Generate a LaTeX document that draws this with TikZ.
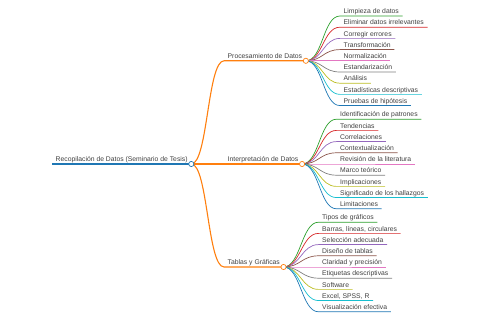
\documentclass[tikz,border=0pt]{standalone}
\usepackage{fontspec}
\setmainfont{Liberation Sans}
\usetikzlibrary{positioning,calc}
\definecolor{mmBlue}{RGB}{31,119,180}
\definecolor{mmOrange}{RGB}{255,127,14}
\definecolor{mmGreen}{RGB}{44,160,44}
\definecolor{mmRed}{RGB}{214,39,40}
\definecolor{mmPurple}{RGB}{148,103,189}
\definecolor{mmBrown}{RGB}{140,86,75}
\definecolor{mmPink}{RGB}{227,119,194}
\definecolor{mmGrey}{RGB}{127,127,127}
\definecolor{mmOlive}{RGB}{188,189,34}
\definecolor{mmCyan}{RGB}{23,190,207}
\definecolor{TxtGrey}{RGB}{64,64,64}

\begin{document}
\begin{tikzpicture}[
  x=1pt,y=-1pt,
  n/.style={anchor=south west,inner xsep=3.5pt,inner ysep=0.3pt,text height=5pt,text depth=1.7pt,
    font=\fontsize{6.8}{8}\selectfont,text=TxtGrey},
  lk/.style={line width=0.7pt},
  bk/.style={mmOrange,line width=1.1pt},
  dot/.style={line width=0.7pt,fill=white}
]
  \useasboundingbox (0,0) rectangle (480,320);
  % root and main branches
  \node[n] (rec) at (52,164) {Recopilación de Datos (Seminario de Tesis)};
  \node[n] (proc) at (224,60.8) {Procesamiento de Datos};
  \node[n] (interp) at (224,164) {Interpretación de Datos};
  \node[n] (tab) at (224,267) {Tablas y Gráficas};
  % leaves: Procesamiento
  \node[n] (p1) at (340,16.0) {Limpieza de datos};
  \node[n] (p2) at (340,27.2) {Eliminar datos irrelevantes};
  \node[n] (p3) at (340,38.4) {Corregir errores};
  \node[n] (p4) at (340,49.6) {Transformación};
  \node[n] (p5) at (340,60.8) {Normalización};
  \node[n] (p6) at (340,72.0) {Estandarización};
  \node[n] (p7) at (340,83.2) {Análisis};
  \node[n] (p8) at (340,94.4) {Estadísticas descriptivas};
  \node[n] (p9) at (340,105.6) {Pruebas de hipótesis};
  % leaves: Interpretación
  \node[n] (i1) at (336.5,119.2) {Identificación de patrones};
  \node[n] (i2) at (336.5,130.4) {Tendencias};
  \node[n] (i3) at (336.5,141.6) {Correlaciones};
  \node[n] (i4) at (336.5,152.8) {Contextualización};
  \node[n] (i5) at (336.5,164.0) {Revisión de la literatura};
  \node[n] (i6) at (336.5,175.2) {Marco teórico};
  \node[n] (i7) at (336.5,186.4) {Implicaciones};
  \node[n] (i8) at (336.5,197.6) {Significado de los hallazgos};
  \node[n] (i9) at (336.5,208.8) {Limitaciones};
  % leaves: Tablas
  \node[n] (t1) at (318.5,222.2) {Tipos de gráficos};
  \node[n] (t2) at (318.5,233.4) {Barras, líneas, circulares};
  \node[n] (t3) at (318.5,244.6) {Selección adecuada};
  \node[n] (t4) at (318.5,255.8) {Diseño de tablas};
  \node[n] (t5) at (318.5,267.0) {Claridad y precisión};
  \node[n] (t6) at (318.5,278.2) {Etiquetas descriptivas};
  \node[n] (t7) at (318.5,289.4) {Software};
  \node[n] (t8) at (318.5,300.6) {Excel, SPSS, R};
  \node[n] (t9) at (318.5,311.8) {Visualización efectiva};

  % underlines and links
  \draw[mmBlue,line width=1.5pt] (rec.south west) -- (rec.south east);
  \draw[bk] (rec.south east) .. controls +(16.5,0) and +(-16.5,0) .. (proc.south west) -- (proc.south east);
  \draw[bk] (rec.south east) .. controls +(16.5,0) and +(-16.5,0) .. (interp.south west) -- (interp.south east);
  \draw[bk] (rec.south east) .. controls +(16.5,0) and +(-16.5,0) .. (tab.south west) -- (tab.south east);

  \draw[lk,mmGreen] (proc.south east) .. controls +(17,0) and +(-17,0) .. (p1.south west) -- (p1.south east);
  \draw[lk,mmRed] (proc.south east) .. controls +(17,0) and +(-17,0) .. (p2.south west) -- (p2.south east);
  \draw[lk,mmPurple] (proc.south east) .. controls +(17,0) and +(-17,0) .. (p3.south west) -- (p3.south east);
  \draw[lk,mmBrown] (proc.south east) .. controls +(17,0) and +(-17,0) .. (p4.south west) -- (p4.south east);
  \draw[lk,mmPink] (proc.south east) .. controls +(17,0) and +(-17,0) .. (p5.south west) -- (p5.south east);
  \draw[lk,mmGrey] (proc.south east) .. controls +(17,0) and +(-17,0) .. (p6.south west) -- (p6.south east);
  \draw[lk,mmOlive] (proc.south east) .. controls +(17,0) and +(-17,0) .. (p7.south west) -- (p7.south east);
  \draw[lk,mmCyan] (proc.south east) .. controls +(17,0) and +(-17,0) .. (p8.south west) -- (p8.south east);
  \draw[lk,mmBlue] (proc.south east) .. controls +(17,0) and +(-17,0) .. (p9.south west) -- (p9.south east);

  \draw[lk,mmGreen] (interp.south east) .. controls +(17,0) and +(-17,0) .. (i1.south west) -- (i1.south east);
  \draw[lk,mmRed] (interp.south east) .. controls +(17,0) and +(-17,0) .. (i2.south west) -- (i2.south east);
  \draw[lk,mmPurple] (interp.south east) .. controls +(17,0) and +(-17,0) .. (i3.south west) -- (i3.south east);
  \draw[lk,mmBrown] (interp.south east) .. controls +(17,0) and +(-17,0) .. (i4.south west) -- (i4.south east);
  \draw[lk,mmPink] (interp.south east) .. controls +(17,0) and +(-17,0) .. (i5.south west) -- (i5.south east);
  \draw[lk,mmGrey] (interp.south east) .. controls +(17,0) and +(-17,0) .. (i6.south west) -- (i6.south east);
  \draw[lk,mmOlive] (interp.south east) .. controls +(17,0) and +(-17,0) .. (i7.south west) -- (i7.south east);
  \draw[lk,mmCyan] (interp.south east) .. controls +(17,0) and +(-17,0) .. (i8.south west) -- (i8.south east);
  \draw[lk,mmBlue] (interp.south east) .. controls +(17,0) and +(-17,0) .. (i9.south west) -- (i9.south east);

  \draw[lk,mmGreen] (tab.south east) .. controls +(17,0) and +(-17,0) .. (t1.south west) -- (t1.south east);
  \draw[lk,mmRed] (tab.south east) .. controls +(17,0) and +(-17,0) .. (t2.south west) -- (t2.south east);
  \draw[lk,mmPurple] (tab.south east) .. controls +(17,0) and +(-17,0) .. (t3.south west) -- (t3.south east);
  \draw[lk,mmBrown] (tab.south east) .. controls +(17,0) and +(-17,0) .. (t4.south west) -- (t4.south east);
  \draw[lk,mmPink] (tab.south east) .. controls +(17,0) and +(-17,0) .. (t5.south west) -- (t5.south east);
  \draw[lk,mmGrey] (tab.south east) .. controls +(17,0) and +(-17,0) .. (t6.south west) -- (t6.south east);
  \draw[lk,mmOlive] (tab.south east) .. controls +(17,0) and +(-17,0) .. (t7.south west) -- (t7.south east);
  \draw[lk,mmCyan] (tab.south east) .. controls +(17,0) and +(-17,0) .. (t8.south west) -- (t8.south east);
  \draw[lk,mmBlue] (tab.south east) .. controls +(17,0) and +(-17,0) .. (t9.south west) -- (t9.south east);

  % fold circles
  \draw[dot,draw=mmBlue] (rec.south east) circle (2.6pt);
  \draw[dot,draw=mmOrange] (proc.south east) circle (2.6pt);
  \draw[dot,draw=mmOrange] (interp.south east) circle (2.6pt);
  \draw[dot,draw=mmOrange] (tab.south east) circle (2.6pt);
\end{tikzpicture}
\end{document}
